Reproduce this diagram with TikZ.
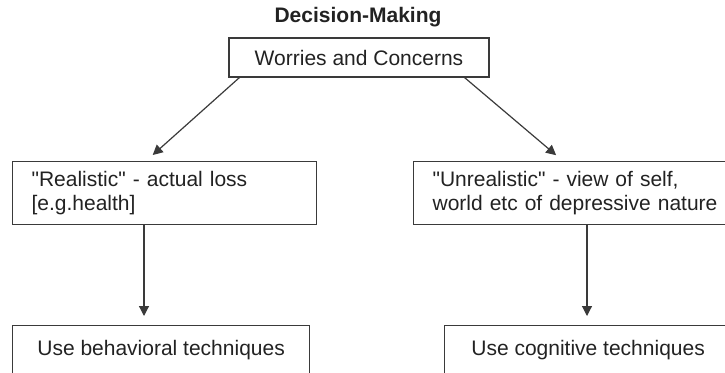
\documentclass[tikz,border=0pt]{standalone}
\usepackage{fontspec}
\setmainfont{Liberation Sans}
% same face without the TeX quote mapping, for straight quotes
\newfontfamily\plainface{Liberation Sans}
\usetikzlibrary{arrows.meta}
\definecolor{ink}{HTML}{222222}
\definecolor{rule}{HTML}{3A3A3A}
\begin{document}
\begin{tikzpicture}[x=1pt,y=-1pt,
  font=\fontsize{21}{24}\selectfont,
  every node/.style={text=ink},
  box/.style={draw=rule,line width=1.2pt,rectangle,inner sep=0pt},
  twoline/.style={box,anchor=north west,align=left,inner xsep=19pt,minimum height=62.5pt,
    font=\fontsize{21}{24}\selectfont\plainface},
  openbox/.style={box,anchor=north west,text height=23pt,text depth=40pt,inner ysep=7pt},
  arr/.style={draw=rule,line width=1.2pt,-{Triangle[length=10pt,width=10pt]}}]
  \useasboundingbox (0,0) rectangle (725,372);
  \clip (0,0) rectangle (725,372);

  % heading and root box
  \node[font=\fontsize{21}{24}\selectfont\bfseries] (title) at (358,17) {Decision-Making};
  \node[box,minimum width=260pt,minimum height=39pt] (top) at (359,57.5) {Worries and Concerns};

  % the two kinds of worry
  \node[twoline,text width=266pt] (lmid) at (12,161) {"Realistic" - actual loss\\{}[e.g.health]};
  \node[twoline,text width=320pt] (rmid) at (413,161) {"Unrealistic" - view of self,\\world etc of depressive nature};

  % techniques (boxes run past the lower and right edges)
  \node[openbox,minimum width=297pt] (lbot) at (12,325) {Use behavioral techniques};
  \node[openbox,minimum width=287pt] (rbot) at (444,325) {Use cognitive techniques};

  % arrow columns
  \coordinate (la) at (146,0);
  \coordinate (ra) at (563,0);
  \coordinate (lv) at (144,0);
  \coordinate (rv) at (587,0);

  \draw[arr,shorten >=9pt] ([xshift=11pt]top.south west) -- (la |- lmid.north);
  \draw[arr,shorten >=9pt] ([xshift=-25pt]top.south east) -- (ra |- rmid.north);
  \draw[arr,shorten >=9pt] (lv |- lmid.south) -- (lv |- lbot.north);
  \draw[arr,shorten >=9pt] (rv |- rmid.south) -- (rv |- rbot.north);
\end{tikzpicture}
\end{document}
